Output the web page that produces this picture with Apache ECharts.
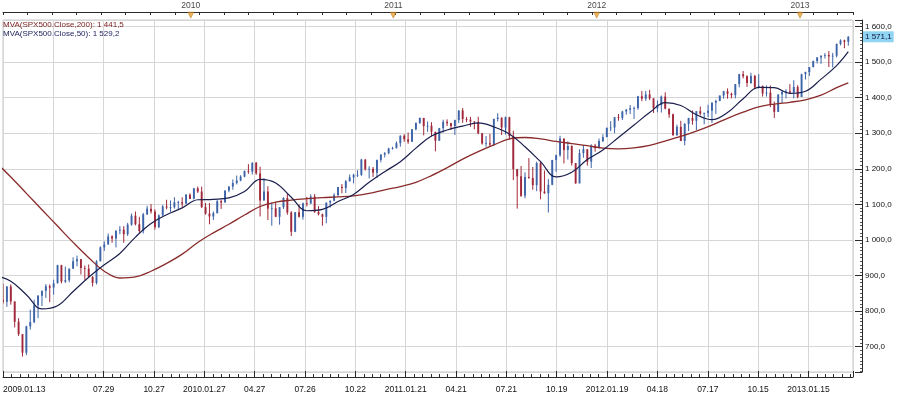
<!DOCTYPE html>
<html><head><meta charset="utf-8">
<script src="https://cdn.jsdelivr.net/npm/echarts@6/dist/echarts.min.js"></script>
<style>html,body{margin:0;padding:0;background:#fff}#c{width:900px;height:396px}</style>
</head><body><div id="c"></div>
<script>
// Weekly bars [open, high, low, close], week 0 = week ending 2009-01-16
const bars2009 = [[890,891,818,850],[850,852,804,832],[832,877,821,826],[826,870,812,869],[869,875,818,827],[827,827,754,770],[770,780,730,735],[735,735,672,683],[683,759,676,757],[757,804,748,769],[769,832,766,816],[816,845,780,843],[843,857,814,857],[857,876,837,870],[870,875,825,866],[866,888,846,878],[878,930,878,929],[929,930,878,883],[883,925,879,887],[887,920,881,919],[919,951,919,940],[940,956,926,946],[946,946,903,921],[921,928,888,919],[919,931,896,896],[896,898,869,879],[879,943,875,940],[940,982,940,979],[979,996,969,987],[987,1018,987,1010],[1010,1013,992,1004],[1004,1027,979,1026],[1026,1039,1016,1029],[1029,1039,992,1016],[1016,1048,1011,1043],[1043,1074,1040,1068],[1068,1080,1041,1044],[1044,1065,1020,1025],[1025,1076,1018,1072],[1072,1096,1070,1088],[1088,1101,1074,1080],[1080,1086,1029,1036],[1036,1072,1033,1069],[1069,1098,1068,1094],[1094,1113,1086,1091],[1091,1111,1079,1092],[1092,1120,1088,1106],[1106,1110,1086,1106],[1106,1120,1093,1102],[1102,1129,1102,1127],[1127,1131,1115,1115]];
const bars2010 = [[1116,1146,1114,1145],[1145,1150,1132,1136],[1136,1150,1090,1092],[1092,1104,1071,1074],[1074,1104,1044,1066],[1066,1080,1056,1075],[1075,1112,1075,1109],[1109,1113,1087,1105],[1105,1139,1105,1139],[1139,1151,1134,1150],[1150,1170,1141,1160],[1160,1181,1156,1167],[1167,1182,1165,1178],[1178,1195,1176,1194],[1194,1213,1186,1192],[1192,1218,1184,1217],[1217,1219,1183,1187],[1187,1206,1066,1111],[1111,1174,1111,1136],[1136,1151,1056,1088],[1088,1105,1040,1089],[1089,1106,1064,1065],[1065,1092,1043,1092],[1092,1120,1087,1118],[1118,1131,1071,1077],[1077,1081,1011,1023],[1023,1078,1022,1078],[1078,1100,1063,1065],[1065,1105,1057,1103],[1103,1121,1094,1102],[1102,1128,1102,1122],[1122,1129,1076,1079],[1079,1095,1069,1072],[1072,1074,1040,1065],[1065,1105,1047,1105],[1105,1111,1091,1110],[1110,1131,1109,1126],[1126,1149,1122,1149],[1149,1157,1131,1146],[1146,1168,1132,1165],[1165,1184,1164,1176],[1176,1186,1159,1183],[1183,1196,1177,1183],[1183,1228,1180,1226],[1226,1227,1195,1199],[1199,1207,1173,1200],[1200,1205,1177,1189],[1189,1226,1174,1225],[1225,1241,1218,1240],[1240,1247,1232,1244],[1244,1259,1241,1257],[1257,1262,1254,1258]];
const bars2011 = [[1258,1277,1257,1272],[1272,1294,1262,1293],[1293,1297,1276,1283],[1283,1302,1270,1276],[1276,1311,1276,1311],[1311,1330,1308,1329],[1329,1344,1326,1343],[1343,1343,1294,1320],[1320,1333,1304,1321],[1321,1331,1291,1304],[1304,1304,1249,1279],[1279,1315,1279,1314],[1314,1338,1302,1332],[1332,1339,1320,1328],[1328,1329,1309,1320],[1320,1338,1295,1337],[1337,1364,1329,1364],[1364,1371,1329,1340],[1340,1346,1331,1338],[1338,1346,1318,1333],[1333,1334,1311,1331],[1331,1346,1297,1300],[1300,1300,1268,1271],[1271,1292,1262,1272],[1272,1298,1262,1268],[1268,1341,1264,1340],[1340,1356,1333,1344],[1344,1344,1295,1316],[1316,1347,1296,1345],[1345,1346,1282,1292],[1292,1307,1168,1199],[1199,1199,1088,1179],[1179,1208,1121,1124],[1124,1190,1117,1177],[1177,1230,1172,1174],[1174,1205,1141,1154],[1154,1220,1137,1216],[1216,1221,1114,1136],[1136,1195,1130,1131],[1131,1171,1077,1155],[1155,1224,1154,1225],[1225,1240,1191,1238],[1238,1293,1234,1285],[1285,1285,1215,1253],[1253,1277,1226,1264],[1264,1266,1209,1216],[1216,1216,1158,1159],[1159,1255,1159,1244],[1244,1267,1231,1255],[1255,1255,1209,1220],[1220,1269,1202,1265],[1265,1270,1248,1258]];
const bars2012 = [[1258,1285,1258,1278],[1278,1297,1275,1289],[1289,1316,1289,1315],[1315,1334,1306,1316],[1316,1345,1300,1345],[1345,1354,1335,1343],[1343,1363,1337,1361],[1361,1368,1352,1366],[1366,1379,1354,1370],[1370,1375,1340,1371],[1371,1405,1366,1404],[1404,1419,1390,1397],[1397,1419,1391,1409],[1409,1422,1393,1398],[1398,1398,1357,1370],[1370,1392,1359,1379],[1379,1406,1358,1403],[1403,1415,1367,1369],[1369,1369,1343,1353],[1353,1355,1292,1295],[1295,1324,1292,1318],[1318,1335,1278,1278],[1278,1329,1266,1326],[1326,1343,1306,1343],[1343,1364,1324,1335],[1335,1362,1309,1362],[1362,1375,1350,1355],[1355,1358,1325,1357],[1357,1380,1345,1363],[1363,1387,1329,1386],[1386,1394,1354,1391],[1391,1406,1390,1406],[1406,1419,1397,1418],[1418,1426,1397,1411],[1411,1414,1398,1407],[1407,1438,1398,1438],[1438,1467,1429,1466],[1466,1475,1454,1460],[1460,1463,1430,1441],[1441,1470,1439,1461],[1461,1464,1425,1429],[1429,1466,1426,1433],[1433,1434,1403,1412],[1412,1434,1403,1414],[1414,1434,1373,1380],[1380,1389,1343,1360],[1360,1409,1360,1409],[1409,1420,1385,1416],[1416,1424,1398,1418],[1418,1438,1412,1414],[1414,1449,1398,1430],[1430,1435,1398,1402]];
const bars2013 = [[1402,1467,1402,1466],[1466,1473,1451,1472],[1472,1486,1461,1486],[1486,1504,1485,1503],[1503,1514,1496,1513],[1513,1519,1495,1518],[1518,1525,1510,1520],[1520,1531,1486,1516],[1516,1526,1485,1518],[1518,1552,1513,1551],[1551,1564,1547,1561],[1561,1563,1539,1557],[1557,1573,1546,1571.1]];

const maWeeks = [0,4,8,12,16,20,24,28,32,36,40,44,48,52,56,60,64,68,72,76,80,84,88,92,96,100,104,108,112,116,120,124,128,132,136,140,144,148,152,156,160,164,168,172,176,180,184,188,192,196,200,204,208,212,216,219];
const ma200 = [1220,1177,1131,1085,1039,993,950,912,893,896,912,934,960,993,1020,1044,1070,1094,1106,1112,1116,1119,1121,1124,1131,1141,1150,1162,1181,1203,1227,1248,1267,1284,1288,1284,1277,1271,1265,1258,1256,1259,1266,1278,1291,1306,1323,1342,1359,1374,1382,1387,1394,1407,1428,1441.5];
const ma50 = [900,884,846,806,815,855,895,930,962,1008,1046,1071,1090,1113,1114,1118,1136,1170,1160,1120,1082,1086,1108,1128,1162,1192,1220,1258,1292,1309,1320,1329,1318,1298,1262,1220,1177,1190,1226,1253,1288,1323,1358,1386,1378,1352,1338,1358,1397,1429,1428,1412,1418,1452,1490,1529.2];

// Axis texts
const dateTickLabels = ['2009.01.13','','07.29','10.27','2010.01.27','04.27','07.26','10.22','2011.01.21','04.21','07.21','10.19','2012.01.19','04.18','07.17','10.15','2013.01.15'];
const yearLabels = ['2010','2011','2012','2013'];
const yearWeeks = [50.2, 102.2, 154.4, 206.6];

const weekly = [].concat(bars2009, bars2010, bars2011, bars2012, bars2013);
const lastClose = weekly[weekly.length - 1][3];

function fmt(v) {
  const s = v.toFixed(1).split('.');
  return s[0].replace(/\B(?=(\d{3})+(?!\d))/g, ' ') + ',' + s[1];
}

const FONT = "'Liberation Sans', Arial, sans-serif";
const X_MIN = 2, X_MAX = 2 + 851 / 3.9, X_INT = 50.4 / 3.9;
const AXIS_COLOR = '#2a2a2a', GRID_COLOR = '#d6d6d6';
const UP = '#3d64a8', DOWN = '#a1283a';

function renderCandle(params, api) {
  const w = api.value(0), o = api.value(1), h = api.value(2), l = api.value(3), c = api.value(4);
  const pH = api.coord([w, h]), pL = api.coord([w, l]), pO = api.coord([w, o]), pC = api.coord([w, c]);
  const color = c >= o ? UP : DOWN;
  const bw = 1.9;
  const top = Math.min(pO[1], pC[1]), bot = Math.max(pO[1], pC[1]);
  return {
    type: 'group',
    children: [
      { type: 'line', shape: { x1: pH[0], y1: pH[1], x2: pL[0], y2: pL[1] }, style: { stroke: color, lineWidth: 1 } },
      { type: 'rect', shape: { x: pO[0] - bw / 2, y: top, width: bw, height: Math.max(bot - top, 0.8) }, style: { fill: color } }
    ]
  };
}

const chart = echarts.init(document.getElementById('c'), null, { renderer: 'canvas' });
chart.setOption({
  animation: false,
  backgroundColor: '#ffffff',
  textStyle: { fontFamily: FONT },
  title: [
    { text: 'MVA(SPX500.Close,200): ' + fmt(ma200[ma200.length - 1]), left: 3, top: 21, padding: 0,
      textStyle: { fontSize: 8, fontWeight: 'normal', color: '#7a1c1c', fontFamily: FONT } },
    { text: 'MVA(SPX500.Close,50): ' + fmt(ma50[ma50.length - 1]), left: 3, top: 30, padding: 0,
      textStyle: { fontSize: 8, fontWeight: 'normal', color: '#1c1c5c', fontFamily: FONT } }
  ],
  grid: { left: 2, right: 47, top: 20, bottom: 24, show: true, borderColor: '#c8c8c8', borderWidth: 1, backgroundColor: '#ffffff' },
  xAxis: [{
    type: 'value', position: 'bottom', offset: 5, min: X_MIN, max: X_MAX, interval: X_INT,
    axisLine: { show: true, onZero: false, lineStyle: { color: AXIS_COLOR, width: 1 } },
    axisTick: { show: true, inside: true, length: 6, lineStyle: { color: AXIS_COLOR } },
    minorTick: { show: true, splitNumber: 6, length: 3, lineStyle: { color: AXIS_COLOR } },
    splitLine: { show: true, lineStyle: { color: GRID_COLOR } },
    axisLabel: {
      fontSize: 8.5, color: '#111', margin: 8, fontFamily: FONT, alignMinLabel: 'left', showMaxLabel: false,
      formatter: function (v) {
        const k = (v - X_MIN) / X_INT, r = Math.round(k);
        return Math.abs(k - r) < 0.02 && dateTickLabels[r] !== undefined ? dateTickLabels[r] : '';
      }
    }
  }, {
    type: 'value', position: 'top', offset: 8, min: X_MIN, max: X_MAX, interval: 6.3,
    axisLine: { show: true, onZero: false, lineStyle: { color: AXIS_COLOR, width: 1 } },
    axisTick: { show: true, inside: true, length: 3, lineStyle: { color: AXIS_COLOR } },
    axisLabel: { show: false },
    splitLine: { show: false }
  }],
  yAxis: {
    type: 'value', position: 'right', offset: 9, min: 628.7, max: 1618.3, splitNumber: 10,
    axisLine: { show: true, onZero: false, lineStyle: { color: AXIS_COLOR, width: 1 } },
    axisTick: { show: true, inside: true, length: 7, lineStyle: { color: AXIS_COLOR } },
    minorTick: { show: true, splitNumber: 10, length: 2, lineStyle: { color: '#555' } },
    splitLine: { show: true, lineStyle: { color: GRID_COLOR } },
    axisLabel: {
      fontSize: 8, color: '#111', margin: 3, fontFamily: FONT,
      formatter: function (v) { return Math.abs(v / 100 - Math.round(v / 100)) < 1e-6 ? fmt(v) : ''; }
    }
  },
  series: [{
    type: 'custom', name: 'SPX500', xAxisIndex: 0, yAxisIndex: 0, clip: true, z: 2,
    renderItem: renderCandle,
    encode: { x: 0, y: [1, 2, 3, 4] },
    data: weekly.map(function (b, i) { return [i, b[0], b[1], b[2], b[3]]; })
  }, {
    type: 'line', name: 'MVA200', xAxisIndex: 0, yAxisIndex: 0, clip: true, z: 3,
    showSymbol: false, symbol: 'none', smooth: 0.4,
    lineStyle: { color: '#8a2b2b', width: 1.3 },
    data: maWeeks.map(function (w, i) { return [w, ma200[i]]; }),
    markLine: {
      silent: true, symbol: ['none', 'none'], animation: false,
      lineStyle: { color: 'rgba(0,0,0,0)', width: 1, type: 'solid' },
      data: [{ yAxis: lastClose }],
      label: { show: true, position: 'end', distance: 10, formatter: fmt(lastClose),
        backgroundColor: '#8fd4f2', color: '#10103a', padding: [2, 2, 1, 2], fontSize: 8, fontFamily: FONT }
    }
  }, {
    type: 'line', name: 'MVA50', xAxisIndex: 0, yAxisIndex: 0, clip: true, z: 3,
    showSymbol: false, symbol: 'none', smooth: 0.4,
    lineStyle: { color: '#1b1f4d', width: 1.2 },
    data: maWeeks.map(function (w, i) { return [w, ma50[i]]; })
  }, {
    type: 'scatter', name: 'years', xAxisIndex: 0, yAxisIndex: 0, clip: false, z: 5, silent: true,
    symbol: 'triangle', symbolRotate: 180, symbolSize: [6, 6],
    itemStyle: { color: '#e9a233', borderColor: '#a8691a', borderWidth: 0.5 },
    label: { show: true, position: 'top', distance: 2, fontSize: 8.5, color: '#111', fontFamily: FONT,
      formatter: function (p) { return yearLabels[p.dataIndex]; } },
    data: yearWeeks.map(function (w) { return [w, 1632]; })
  }]
});
</script>
</body></html>
